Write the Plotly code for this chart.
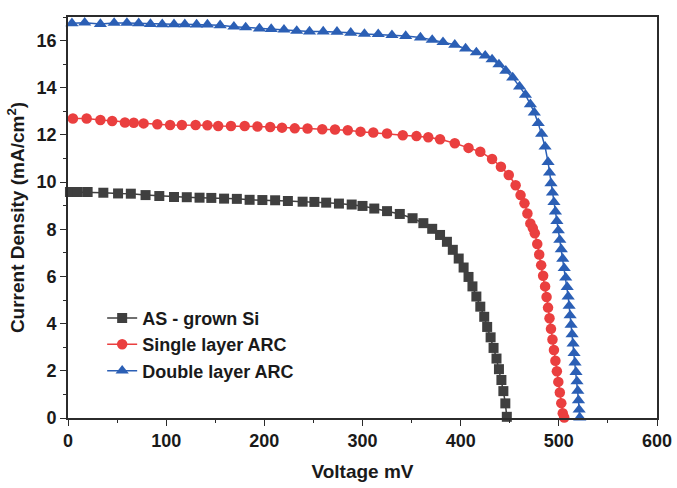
import plotly.graph_objects as go

# J-V curves of Si solar cells with and without anti-reflection coatings
voltage_as_grown = [2, 10, 20, 36, 51, 64, 79, 93, 108, 121, 134, 146, 159, 172, 185, 198,
                    211, 224, 239, 251, 263, 276, 289, 300, 312, 325, 338, 351, 362, 371,
                    379, 386, 392, 398, 403, 408, 412, 416, 420, 424, 427, 430.5, 433.5,
                    436.5, 439, 441.5, 443.5, 445.5, 447]
current_as_grown = [9.58, 9.58, 9.58, 9.55, 9.52, 9.51, 9.45, 9.41, 9.37, 9.36, 9.34, 9.33,
                    9.30, 9.29, 9.25, 9.24, 9.23, 9.20, 9.17, 9.16, 9.13, 9.09, 9.05, 8.99,
                    8.88, 8.77, 8.65, 8.47, 8.26, 8.02, 7.76, 7.47, 7.13, 6.76, 6.38, 5.98,
                    5.58, 5.15, 4.72, 4.29, 3.86, 3.42, 2.97, 2.52, 2.07, 1.61, 1.14, 0.62,
                    0.05]

voltage_single = [5, 19, 33, 45, 58, 67, 77, 91, 104, 116, 130, 142, 153, 166, 180, 193,
                  206, 218, 231, 244, 259, 272, 285, 298, 311, 325, 341, 355, 367, 379,
                  394, 408, 420, 432, 441, 449, 456, 461, 465, 468, 471, 473.5, 475.5,
                  478, 480, 482, 484, 486, 487.5, 489, 490.5, 492, 493.5, 495, 496.5, 498,
                  499.5, 501, 502.5, 504, 505.5]
current_single = [12.70, 12.70, 12.63, 12.59, 12.53, 12.52, 12.49, 12.45, 12.42, 12.42,
                  12.42, 12.41, 12.38, 12.38, 12.38, 12.36, 12.34, 12.31, 12.28, 12.27,
                  12.24, 12.23, 12.20, 12.14, 12.10, 12.06, 11.99, 11.95, 11.90, 11.82,
                  11.65, 11.45, 11.29, 10.98, 10.65, 10.30, 9.87, 9.45, 9.10, 8.67, 8.25,
                  8.05, 7.83, 7.38, 6.93, 6.48, 6.03, 5.58, 5.13, 4.68, 4.23, 3.78, 3.33,
                  2.88, 2.43, 1.98, 1.53, 1.08, 0.63, 0.20, 0.02]

voltage_double = [4, 17, 33, 47, 60, 72, 84, 96, 108, 119, 131, 142, 155, 169, 181, 195,
                  207, 220, 233, 246, 260, 274, 288, 302, 316, 330, 344, 359, 371, 382,
                  394, 405, 416, 425, 432, 439, 446, 453, 460, 466, 471, 475, 479, 482.5,
                  486, 489, 490.5, 492, 493.5, 495, 496.5, 498, 499.5, 501, 502.5, 504,
                  505.5, 507, 508.5, 509.5, 510.5, 511.5, 512.5, 513.5, 514.5, 515.5,
                  516.5, 517.5, 518.5, 519.3, 520, 520.7, 521.3]
current_double = [16.73, 16.76, 16.70, 16.75, 16.75, 16.73, 16.70, 16.69, 16.69, 16.69,
                  16.68, 16.68, 16.65, 16.59, 16.56, 16.51, 16.49, 16.46, 16.41, 16.38,
                  16.38, 16.37, 16.33, 16.28, 16.27, 16.23, 16.19, 16.13, 16.03, 15.93,
                  15.82, 15.66, 15.50, 15.36, 15.20, 14.99, 14.72, 14.43, 14.05, 13.70,
                  13.30, 12.95, 12.50, 12.05, 11.50, 10.85, 10.40, 9.95, 9.55, 9.15, 8.75,
                  8.35, 7.95, 7.55, 7.15, 6.75, 6.35, 5.95, 5.55, 5.15, 4.75, 4.35, 3.95,
                  3.55, 3.15, 2.75, 2.35, 1.95, 1.55, 1.15, 0.75, 0.35, 0.02]

series_names = ["AS - grown Si", "Single layer ARC", "Double layer ARC"]
x_tick_values = [0, 100, 200, 300, 400, 500, 600]
y_tick_values = [0, 2, 4, 6, 8, 10, 12, 14, 16]

FONT = "Liberation Sans, Arial, sans-serif"
AXIS_COLOR = "#2b2b2b"
TEXT_COLOR = "#1a1a1a"

styles = [
    dict(color="#3f3f3f", symbol="square", size=10),
    dict(color="#ea3f3f", symbol="circle", size=10.5),
    dict(color="#2b5fb5", symbol="triangle-up", size=11.5),
]
data = [
    (voltage_as_grown, current_as_grown),
    (voltage_single, current_single),
    (voltage_double, current_double),
]

fig = go.Figure()
for name, (v, j), st in zip(series_names, data, styles):
    fig.add_trace(go.Scatter(
        x=v, y=j, name=name, mode="lines+markers",
        line=dict(color=st["color"], width=1.5),
        marker=dict(symbol=st["symbol"], size=st["size"], color=st["color"],
                    line=dict(width=0)),
        cliponaxis=False,
    ))

axis_common = dict(
    showline=True, linecolor=AXIS_COLOR, linewidth=1.6, mirror=True,
    ticks="outside", tickcolor=AXIS_COLOR, tickwidth=1.4, ticklen=6,
    showgrid=False, zeroline=False, automargin=False,
    tickfont=dict(family=FONT, size=18, color=TEXT_COLOR, weight="bold"),
)

fig.update_xaxes(
    range=[0, 600], tickvals=x_tick_values,
    minor=dict(dtick=50, ticks="outside", ticklen=3.5, tickcolor=AXIS_COLOR, tickwidth=1.4),
    title=dict(text="Voltage mV", standoff=14,
               font=dict(family=FONT, size=19, color=TEXT_COLOR, weight="bold")),
    **axis_common,
)
fig.update_yaxes(
    range=[0, 17], tickvals=y_tick_values,
    minor=dict(dtick=1, ticks="outside", ticklen=3.5, tickcolor=AXIS_COLOR, tickwidth=1.4),
    title=dict(text="Current Density (mA/cm<sup>2</sup>)", standoff=7,
               font=dict(family=FONT, size=19, color=TEXT_COLOR, weight="bold")),
    **axis_common,
)

fig.update_layout(
    width=677, height=488,
    margin=dict(l=68, r=20, t=17, b=70),
    paper_bgcolor="white", plot_bgcolor="white",
    showlegend=True,
    legend=dict(
        x=0.058, y=0.295, xanchor="left", yanchor="top",
        bgcolor="rgba(0,0,0,0)", borderwidth=0,
        font=dict(family=FONT, size=18, color=TEXT_COLOR, weight="bold"),
        tracegroupgap=0, itemwidth=30,
    ),
)

fig.write_html("out.html")
